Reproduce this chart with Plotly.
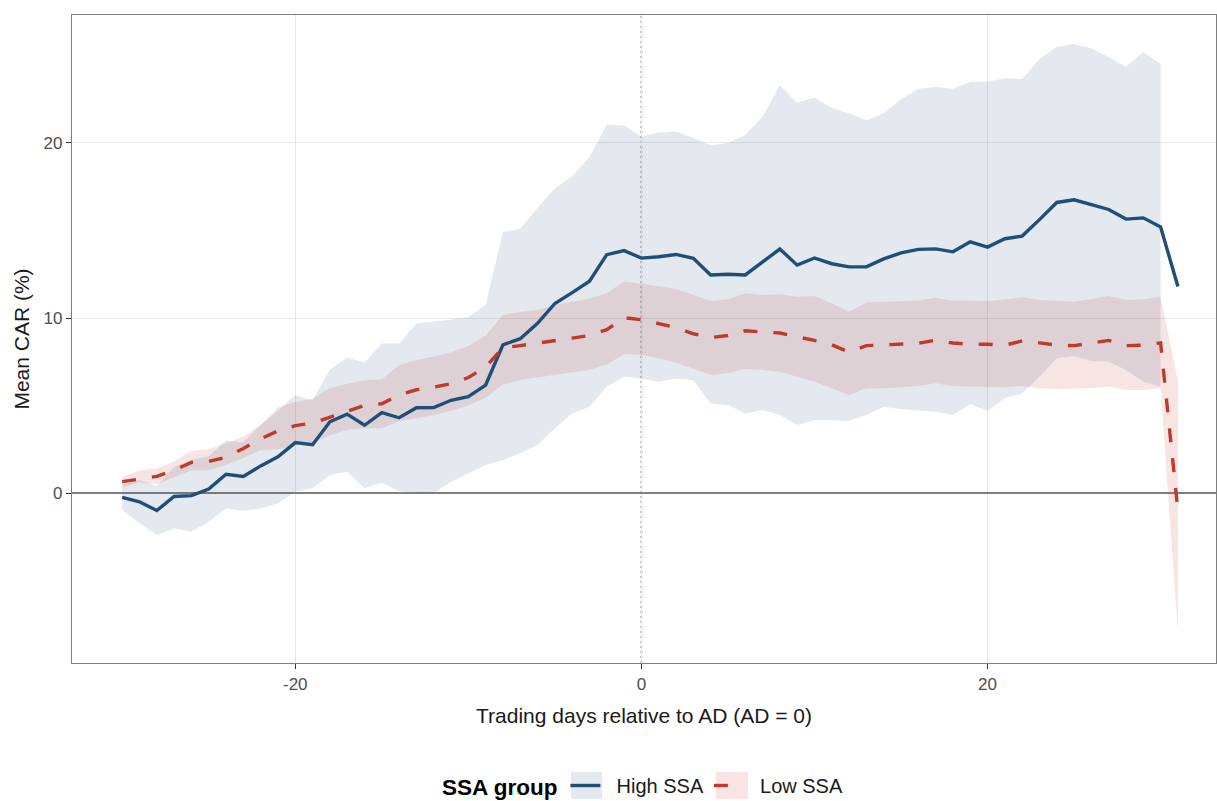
import plotly.graph_objects as go

days = list(range(-30, 32))

high_mean = [-0.25, -0.5, -1.0, -0.2, -0.15, 0.23, 1.07, 0.95, 1.55, 2.07,
             2.88, 2.76, 4.07, 4.51, 3.87, 4.59, 4.3, 4.87, 4.88, 5.3,
             5.5, 6.17, 8.47, 8.82, 9.7, 10.83, 11.45, 12.1, 13.62, 13.85,
             13.42, 13.5, 13.63, 13.41, 12.46, 12.5, 12.46, 13.2, 13.94, 13.02,
             13.43, 13.1, 12.92, 12.93, 13.38, 13.72, 13.92, 13.95, 13.78, 14.35,
             14.05, 14.53, 14.68, 15.62, 16.6, 16.75, 16.45, 16.2, 15.65, 15.72,
             15.2, 11.8]
high_upper = [0.5, 0.75, 0.4, 1.5, 1.9, 2.1, 3.0, 2.9, 3.9, 4.7,
              5.6, 5.3, 7.05, 7.75, 7.45, 8.55, 8.55, 9.7, 9.8, 9.9,
              10.05, 10.75, 14.9, 15.1, 16.3, 17.4, 18.1, 19.2, 21.05, 21.0,
              20.35, 20.6, 20.65, 20.3, 19.85, 20.0, 20.45, 21.5, 23.3, 22.3,
              22.6, 22.0, 21.7, 21.3, 21.7, 22.5, 23.1, 23.2, 23.1, 23.5,
              23.5, 23.7, 23.65, 24.8, 25.5, 25.65, 25.4, 24.9, 24.35, 25.2,
              24.5, None]
high_lower = [-0.97, -1.73, -2.4, -2.02, -2.21, -1.64, -0.88, -1.01, -0.88, -0.59,
              0.08, 0.27, 1.03, 1.22, 0.27, 0.6, 0.1, 0.0, 0.0, 0.65,
              1.12, 1.6, 1.89, 2.27, 2.74, 3.7, 4.55, 4.93, 6.08, 6.65,
              6.55, 6.36, 6.55, 6.46, 5.12, 5.03, 4.55, 4.74, 4.46, 3.89,
              4.17, 4.13, 4.13, 4.46, 4.93, 4.78, 4.7, 4.65, 4.46, 5.09,
              4.69, 5.41, 5.7, 6.65, 7.7, 7.83, 7.54, 7.5, 7.03, 6.36,
              6.08, None]

low_mean = [0.65, 0.82, 0.95, 1.3, 1.75, 1.8, 2.05, 2.55, 3.1, 3.55,
            3.85, 4.0, 4.35, 4.65, 5.0, 5.1, 5.6, 5.9, 6.05, 6.25,
            6.6, 7.2, 8.3, 8.42, 8.55, 8.68, 8.85, 9.0, 9.33, 10.02,
            9.9, 9.68, 9.45, 9.1, 8.88, 9.0, 9.27, 9.2, 9.14, 8.92,
            8.72, 8.47, 8.05, 8.42, 8.46, 8.5, 8.55, 8.74, 8.57, 8.5,
            8.5, 8.45, 8.69, 8.58, 8.45, 8.42, 8.55, 8.72, 8.42, 8.45,
            8.58, -1.0]
low_upper = [0.9, 1.3, 1.4, 1.8, 2.42, 2.5, 2.84, 3.22, 3.89, 4.9,
             5.2, 5.4, 5.98, 6.25, 6.45, 6.5, 7.3, 7.6, 7.8, 8.05,
             8.4, 9.0, 10.17, 10.36, 10.46, 10.74, 10.93, 11.12, 11.41, 12.08,
             11.95, 11.79, 11.65, 11.31, 10.97, 11.07, 11.41, 11.31, 11.35, 11.22,
             11.26, 10.84, 10.36, 10.88, 10.91, 10.95, 11.0, 11.16, 10.99, 10.98,
             10.97, 11.05, 11.18, 11.03, 10.97, 10.93, 11.09, 11.26, 11.03, 11.07,
             11.22, 6.45]
low_lower = [0.32, 0.6, 0.5, 0.9, 1.3, 1.3, 1.6, 2.0, 2.45, 2.5,
             2.7, 2.85, 3.3, 3.6, 3.7, 3.7, 4.1, 4.27, 4.46, 4.7,
             5.0, 5.45, 6.2, 6.46, 6.6, 6.75, 6.9, 7.05, 7.35, 7.95,
             7.89, 7.7, 7.45, 7.1, 6.74, 6.84, 7.09, 7.03, 6.93, 6.65,
             6.36, 5.98, 5.6, 5.98, 5.98, 6.04, 6.11, 6.27, 6.11, 6.08,
             6.08, 6.05, 6.11, 5.98, 5.94, 5.94, 5.98, 6.08, 5.89, 5.89,
             5.98, -8.0]

group_names = ["High SSA", "Low SSA"]
x_ticks = [-20, 0, 20]
x_ticklabels = ["-20", "0", "20"]
y_ticks = [0, 10, 20]
y_ticklabels = ["0", "10", "20"]

BLUE = "#1f4e79"
RED = "#c0392b"
BLUE_FILL = "rgba(31,78,121,0.125)"
RED_FILL = "rgba(192,57,43,0.13)"
FONT = "Liberation Sans, Arial, sans-serif"
PAD = "\u00a0\u00a0"

hb_x = [d for d, u in zip(days, high_upper) if u is not None]
hb_u = [u for u in high_upper if u is not None]
hb_l = [l for l in high_lower if l is not None]

fig = go.Figure()
fig.add_trace(go.Scatter(x=hb_x, y=hb_l, mode="lines", line=dict(width=0),
                         showlegend=False, hoverinfo="skip"))
fig.add_trace(go.Scatter(x=hb_x, y=hb_u, mode="lines", line=dict(width=0),
                         fill="tonexty", fillcolor=BLUE_FILL,
                         showlegend=False, hoverinfo="skip"))
fig.add_trace(go.Scatter(x=days, y=low_lower, mode="lines", line=dict(width=0),
                         showlegend=False, hoverinfo="skip"))
fig.add_trace(go.Scatter(x=days, y=low_upper, mode="lines", line=dict(width=0),
                         fill="tonexty", fillcolor=RED_FILL,
                         showlegend=False, hoverinfo="skip"))
fig.add_trace(go.Scatter(x=days, y=high_mean, mode="lines", name=PAD + group_names[0],
                         line=dict(color=BLUE, width=3.4)))
fig.add_trace(go.Scatter(x=days, y=low_mean, mode="lines", name=PAD + group_names[1],
                         line=dict(color=RED, width=3.4, dash="14px,16px")))

# vertical dotted reference line at AD
fig.add_vline(x=0, line=dict(color="#555555", width=1.5, dash="2px,3px"), layer="below")

# legend key backgrounds
def px2paper_x(px):
    return (px - 72) / 1144.0

def px2paper_y(py):
    return (663 - py) / 648.0

fig.add_shape(type="rect", xref="paper", yref="paper",
              x0=px2paper_x(571), x1=px2paper_x(602),
              y0=px2paper_y(799), y1=px2paper_y(772),
              fillcolor="#e4e8ef", line=dict(width=0), layer="above")
fig.add_shape(type="rect", xref="paper", yref="paper",
              x0=px2paper_x(716), x1=px2paper_x(748),
              y0=px2paper_y(799), y1=px2paper_y(772),
              fillcolor="#f8e4e2", line=dict(width=0), layer="above")

fig.update_layout(
    width=1217, height=801,
    margin=dict(l=72, r=1, t=15, b=138, autoexpand=False),
    plot_bgcolor="white", paper_bgcolor="white",
    font=dict(family=FONT, color="#1a1a1a"),
    showlegend=True,
    legend=dict(orientation="h", x=0.5, xanchor="center", y=px2paper_y(786),
                yanchor="middle", bgcolor="rgba(0,0,0,0)", traceorder="normal",
                font=dict(size=20, color="#1a1a1a", family=FONT),
                title=dict(text="<b>SSA group</b>", font=dict(size=22.5, color="#000000"))),
    xaxis=dict(range=[-32.9, 33.2], tickvals=x_ticks, ticktext=x_ticklabels,
               showgrid=True, gridcolor="#e8e8e8", gridwidth=1.2, zeroline=False,
               showline=True, mirror=True, linecolor="#7f7f7f", linewidth=1.2,
               ticks="outside", ticklen=5, tickcolor="#333333", tickwidth=1.1,
               tickfont=dict(size=17, color="#4d4d4d"),
               title=dict(text="Trading days relative to AD (AD = 0)",
                          font=dict(size=21, color="#1a1a1a"), standoff=15)),
    yaxis=dict(range=[-9.71, 27.31], tickvals=y_ticks, ticktext=y_ticklabels,
               showgrid=True, gridcolor="#e8e8e8", gridwidth=1.2,
               zeroline=True, zerolinecolor="#808080", zerolinewidth=1.8,
               showline=True, mirror=True, linecolor="#7f7f7f", linewidth=1.2,
               ticks="outside", ticklen=5, tickcolor="#333333", tickwidth=1.1,
               tickfont=dict(size=17, color="#4d4d4d"),
               title=dict(text="Mean CAR (%)", font=dict(size=21, color="#1a1a1a"),
                          standoff=8)),
)

fig.write_html("out.html")
